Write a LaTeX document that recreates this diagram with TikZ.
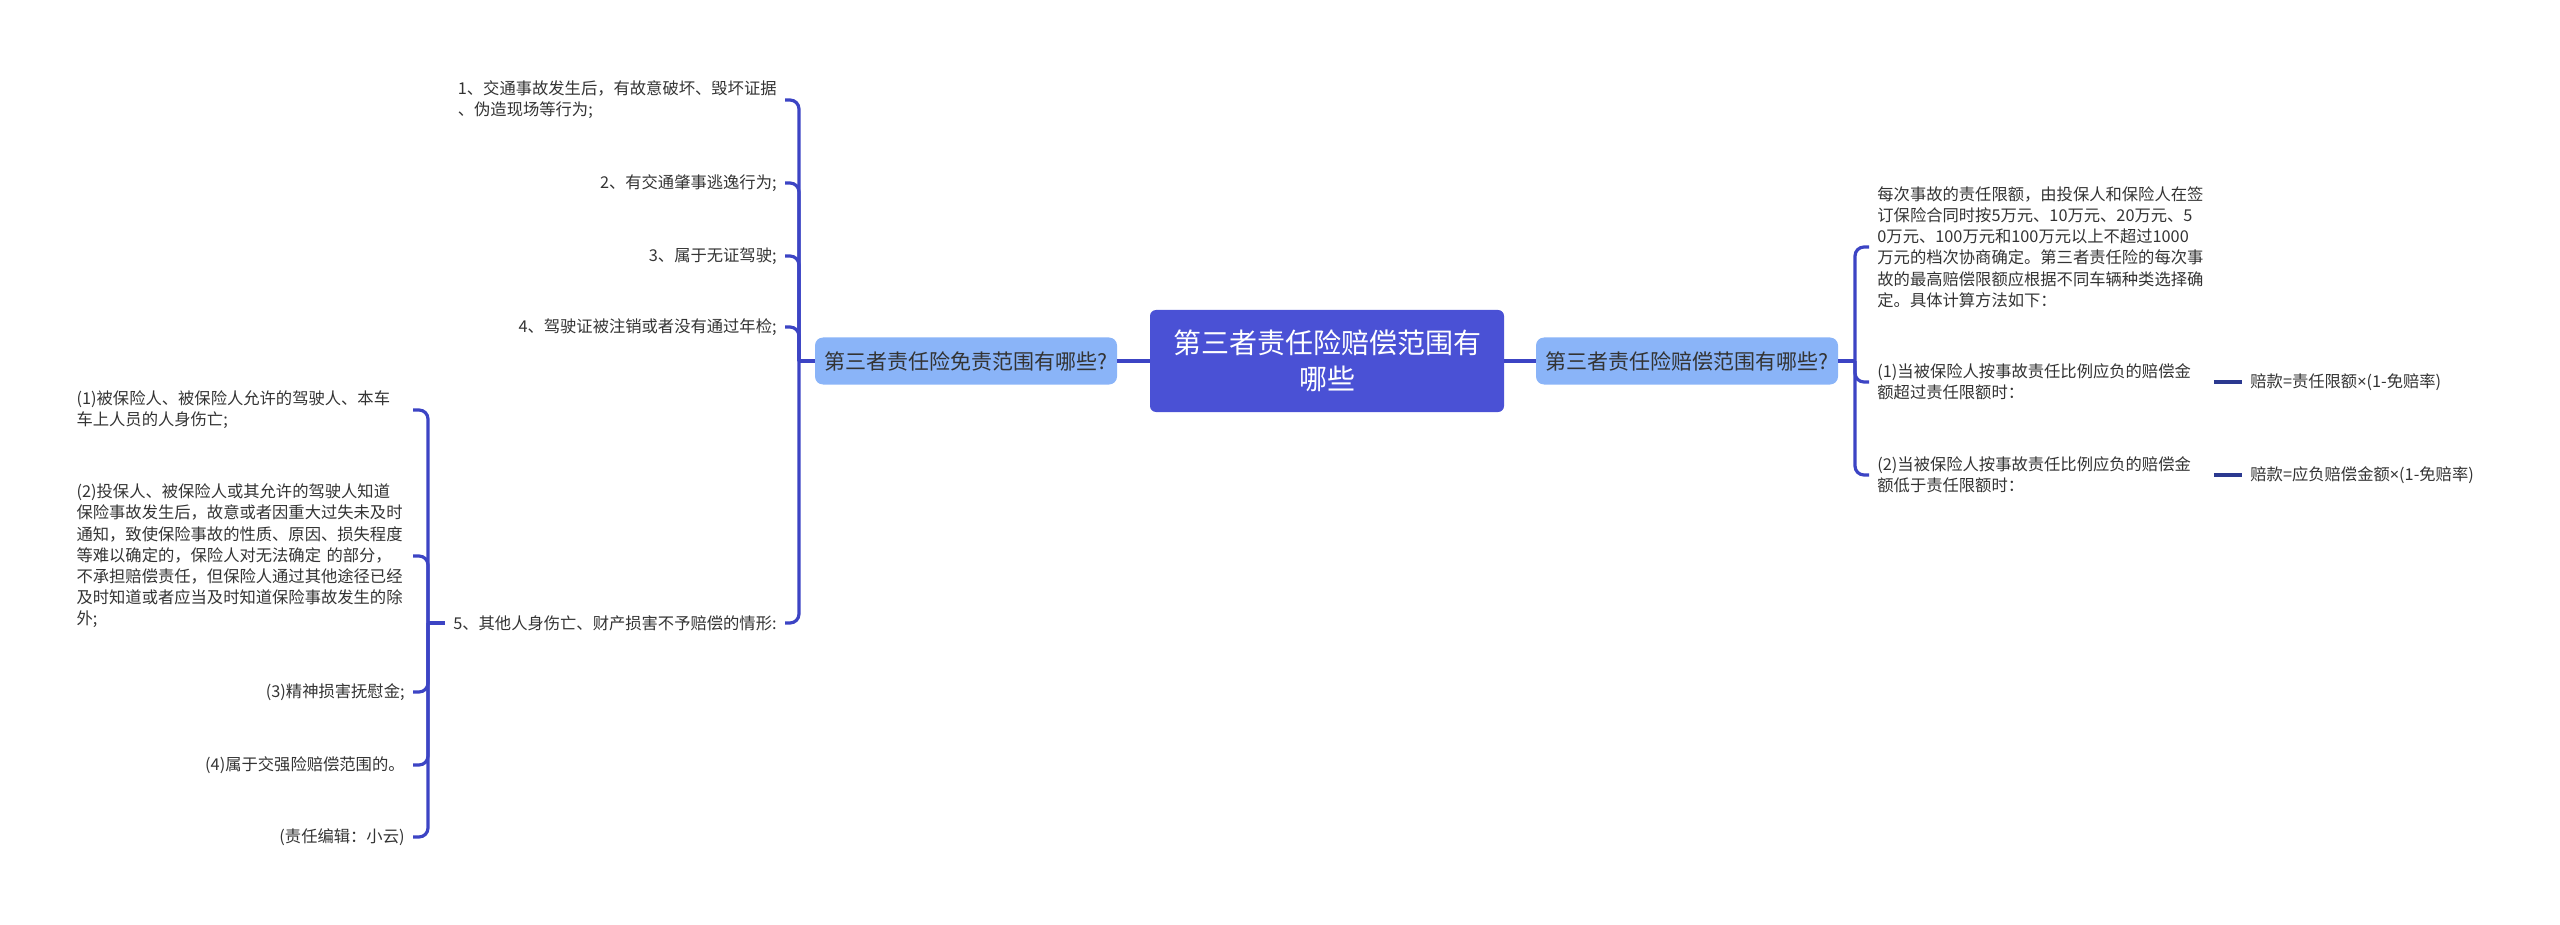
\documentclass[tikz,border=0pt]{standalone}
\usepackage{fontspec}
\setmainfont{Noto Sans CJK SC}
\newfontfamily\latinfont{Noto Sans}
\usepackage{tikz}
\usetikzlibrary{arrows}
\definecolor{rootblue}{HTML}{4A51D5}
\definecolor{subblue}{HTML}{8AB4F8}
\definecolor{linkblue}{HTML}{3C44C4}
\definecolor{stubblue}{HTML}{2B3990}
\definecolor{txtgray}{HTML}{333333}
\newcommand\Rc{4.5pt}
\newcommand\tms{{\latinfont ×}}

\begin{document}
\begin{tikzpicture}[x=0.5pt,y=-0.5pt,
                    every node/.style={text=txtgray,font=\fontsize{8.15pt}{10.6pt}\selectfont}]

  \tikzstyle{root}=[rectangle,fill=rootblue,rounded corners=3pt,text=white,align=center,
                    minimum width=177pt,minimum height=51pt,font=\fontsize{14pt}{18pt}\selectfont]
  \tikzstyle{topic}=[rectangle,fill=subblue,rounded corners=4pt,minimum width=151pt,
                     minimum height=23.5pt,font=\fontsize{10.5pt}{12pt}\selectfont]
  \tikzstyle{item}=[inner xsep=4pt,inner ysep=1pt,align=left]
  \tikzstyle{para}=[item,text width=164pt]
  \tikzstyle{link}=[draw=linkblue,line width=1.6pt]
  \tikzstyle{stub}=[draw=stubblue,line width=1.6pt]
  \tikzstyle{elbow}=[link,rounded corners=\Rc,to path={|- (\tikztotarget)}]

  \useasboundingbox (0,0) rectangle (2560,925);

  \node[root]  (root) at (1327,361) {第三者责任险赔偿范围有\\哪些};
  \node[topic] (lsub) at (966,361)  {第三者责任险免责范围有哪些?};
  \node[topic] (rsub) at (1687,361) {第三者责任险赔偿范围有哪些?};

  \coordinate (lj) at (799,361);
  \coordinate (rj) at (1855,361);
  \coordinate (fj) at (428,623);

  % left side
  \node[item,anchor=east] (a1) at (785,100) {1、交通事故发生后，有故意破坏、毁坏证据\\、伪造现场等行为;};
  \node[item,anchor=east] (a2) at (785,183) {2、有交通肇事逃逸行为;};
  \node[item,anchor=east] (a3) at (785,256) {3、属于无证驾驶;};
  \node[item,anchor=east] (a4) at (785,327) {4、驾驶证被注销或者没有通过年检;};
  \node[item,anchor=east] (a5) at (785,623) {5、其他人身伤亡、财产损害不予赔偿的情形:};

  \node[para,anchor=east] (b1) at (413,410) {(1)被保险人、被保险人允许的驾驶人、本车\\车上人员的人身伤亡;};
  \node[para,anchor=east] (b2) at (413,556) {(2)投保人、被保险人或其允许的驾驶人知道\\保险事故发生后，故意或者因重大过失未及时\\通知，致使保险事故的性质、原因、损失程度\\等难以确定的，保险人对无法确定 的部分，\\不承担赔偿责任，但保险人通过其他途径已经\\及时知道或者应当及时知道保险事故发生的除\\外;};
  \node[item,anchor=east] (b3) at (413,692) {(3)精神损害抚慰金;};
  \node[item,anchor=east] (b4) at (413,765) {(4)属于交强险赔偿范围的。};
  \node[item,anchor=east] (b5) at (413,837) {(责任编辑：小云)};

  % right side
  \node[para,anchor=west] (r1) at (1869,247) {每次事故的责任限额，由投保人和保险人在签\\订保险合同时按5万元、10万元、20万元、5\\0万元、100万元和100万元以上不超过1000\\万元的档次协商确定。第三者责任险的每次事\\故的最高赔偿限额应根据不同车辆种类选择确\\定。具体计算方法如下：};
  \node[para,anchor=west] (r2) at (1869,382) {(1)当被保险人按事故责任比例应负的赔偿金\\额超过责任限额时：};
  \node[para,anchor=west] (r3) at (1869,475) {(2)当被保险人按事故责任比例应负的赔偿金\\额低于责任限额时：};
  \node[item,anchor=west] (d1) at (2242,382) {赔款=责任限额\tms(1-免赔率)};
  \node[item,anchor=west] (d2) at (2242,475) {赔款=应负赔偿金额\tms(1-免赔率)};

  \path
  (root) edge[link] (lsub)
  (root) edge[link] (rsub)
  (lsub) edge[link] (lj)
  (rsub) edge[link] (rj)
  (a5)   edge[link] (fj)
  (r2)   edge[stub] (d1)
  (r3)   edge[stub] (d2)
  ;
  \foreach \n in {a1,a2,a3,a4,a5} \path (lj) edge[elbow] (\n.east);
  \foreach \n in {b1,b2,b3,b4,b5} \path (fj) edge[elbow] (\n.east);
  \foreach \n in {r1,r2,r3}       \path (rj) edge[elbow] (\n.west);
\end{tikzpicture}
\end{document}
